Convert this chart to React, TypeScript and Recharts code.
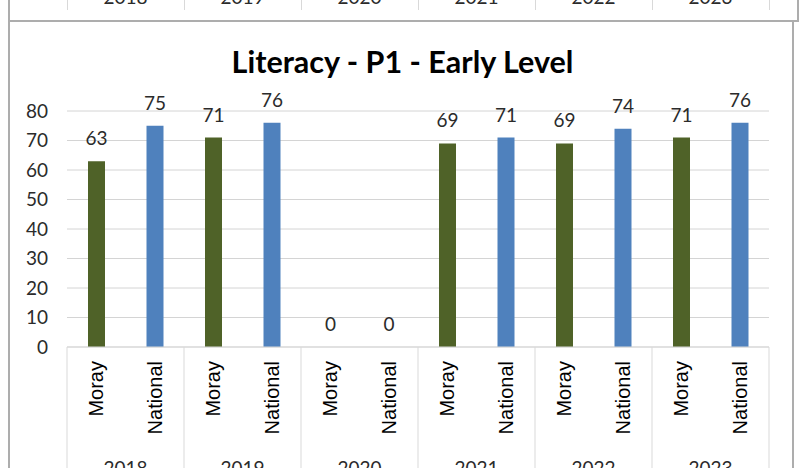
import React from 'react';
import { BarChart, Bar, XAxis, YAxis, CartesianGrid, Cell, LabelList } from 'recharts';

const years = ['2018', '2019', '2020', '2021', '2022', '2023'];
const morayValues = [63, 71, 0, 69, 69, 71];
const nationalValues = [75, 76, 0, 71, 74, 76];
const yTicks = [0, 10, 20, 30, 40, 50, 60, 70, 80];

const colors: Record<string, string> = { Moray: '#4F6228', National: '#4F81BD' };

const data = years.flatMap((year, i) => [
  { year, region: 'Moray', value: morayValues[i] },
  { year, region: 'National', value: nationalValues[i] },
]);

const W = 800;
const H = 468;
const margin = { top: 111, right: 31, left: 0, bottom: 0 };
const Y_AXIS_W = 67;
const REGION_AXIS_H = 101;
const YEAR_AXIS_H = 20;
const plotLeft = margin.left + Y_AXIS_W;
const plotRight = W - margin.right;
const plotBottom = H - margin.bottom - REGION_AXIS_H - YEAR_AXIS_H;
const groupW = (plotRight - plotLeft) / years.length;

const FONT = 'Lato, Carlito, Calibri, sans-serif';
const frame = '#adadad';
const light = '#d9d9d9';
const textCol = '#2b2b2b';

const RegionTick = (props: any) => {
  const { x, payload } = props;
  return (
    <text
      transform={`translate(${x + 7},${plotBottom + 14}) rotate(-90)`}
      textAnchor="end"
      fontFamily="'Liberation Sans', Arial, sans-serif"
      fontSize={20}
      fill="#000"
    >
      {payload.value}
    </text>
  );
};

const YearTick = (props: any) => {
  const { x, payload, index } = props;
  const half = groupW / 2;
  return (
    <g>
      <line x1={x - half} x2={x - half} y1={plotBottom} y2={H} stroke={light} />
      {index === years.length - 1 && (
        <line x1={x + half} x2={x + half} y1={plotBottom} y2={H} stroke={light} />
      )}
      <text x={x} y={475} textAnchor="middle" fontFamily={FONT} fontSize={19} fill={textCol}>
        {payload.value}
      </text>
    </g>
  );
};

export default function App() {
  return (
    <div style={{ position: 'absolute', left: 0, top: 0, width: W, height: H, overflow: 'hidden', background: '#fff' }}>
      {/* bottom edge of the chart above */}
      {years.map((y, i) => (
        <React.Fragment key={y}>
          <div style={{ position: 'absolute', left: plotLeft + i * groupW, top: 0, width: 1, height: 10, background: light }} />
          <div
            style={{
              position: 'absolute', left: plotLeft + i * groupW, top: -12, width: groupW, textAlign: 'center',
              fontFamily: FONT, fontSize: 19, lineHeight: '18px', color: textCol,
            }}
          >
            {y}
          </div>
        </React.Fragment>
      ))}
      <div style={{ position: 'absolute', left: plotRight, top: 0, width: 1, height: 10, background: light }} />
      <div style={{ position: 'absolute', left: 797, top: 0, width: 2, height: 21, background: frame }} />
      <div style={{ position: 'absolute', left: 8, top: 20, width: 791, height: 2, background: frame }} />
      <div style={{ position: 'absolute', left: 8, top: 0, width: 2, height: H, background: frame }} />
      <div style={{ position: 'absolute', left: 792, top: 20, width: 2, height: H, background: frame }} />

      <div
        style={{
          position: 'absolute', left: 0, top: 46, width: 805, textAlign: 'center',
          fontFamily: FONT, fontWeight: 700, fontSize: 30.5, lineHeight: '30px', color: '#000',
        }}
      >
        Literacy - P1 - Early Level
      </div>

      <div style={{ position: 'absolute', left: 0, top: 0 }}>
        <BarChart width={W} height={H} data={data} margin={margin}>
          <CartesianGrid vertical={false} stroke="#d4d4d4" />
          <XAxis
            dataKey="region"
            height={REGION_AXIS_H}
            interval={0}
            axisLine={{ stroke: light }}
            tickLine={false}
            tick={<RegionTick />}
          />
          <XAxis
            xAxisId="year"
            dataKey="year"
            allowDuplicatedCategory={false}
            height={YEAR_AXIS_H}
            interval={0}
            axisLine={false}
            tickLine={false}
            tick={<YearTick />}
          />
          <YAxis
            domain={[0, 80]}
            ticks={yTicks}
            width={Y_AXIS_W}
            axisLine={false}
            tickLine={false}
            tickSize={0}
            tickMargin={19}
            tick={{ fill: textCol, fontSize: 19, fontFamily: FONT }}
          />
          <Bar dataKey="value" barSize={17} minPointSize={0.01} isAnimationActive={false}>
            {data.map((d, i) => (
              <Cell key={i} fill={colors[d.region]} />
            ))}
            <LabelList dataKey="value" position="top" offset={16} fill={textCol} fontSize={19} fontFamily={FONT} />
          </Bar>
        </BarChart>
      </div>
    </div>
  );
}
